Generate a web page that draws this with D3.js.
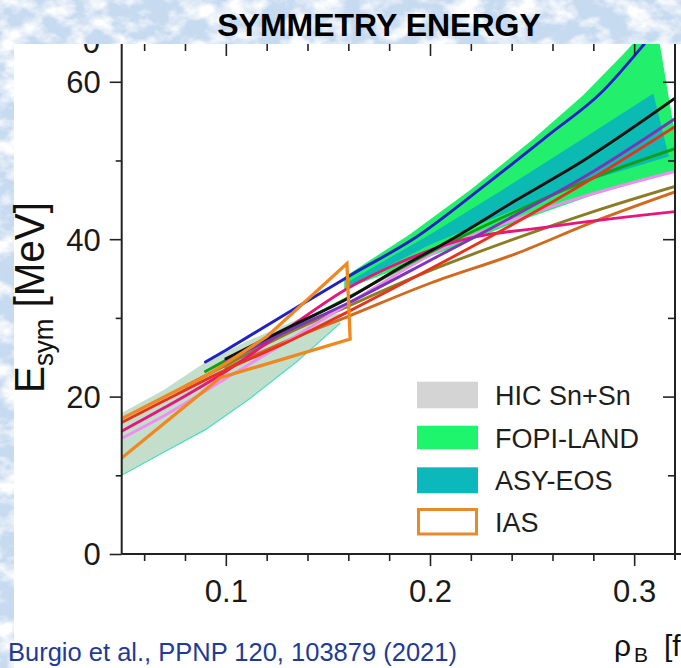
<!DOCTYPE html>
<html><head><meta charset="utf-8">
<script src="https://cdn.jsdelivr.net/npm/d3@7"></script>
<style>html,body{margin:0;padding:0;background:#fff;overflow:hidden}svg{display:block}</style>
</head><body>
<svg id="c" width="681" height="668"></svg>
<script>
// ---------------- DATA ----------------
const xMajorTicks = [0.1, 0.2, 0.3];
const xMinorTicks = [0.06, 0.08, 0.12, 0.14, 0.16, 0.18, 0.22, 0.24, 0.26, 0.28];
const yMajorTicks = [0, 20, 40, 60];
const yMinorTicks = [10, 30, 50];

// bands: [density, Esym]
const hicUpper  = [[0.049,17.9],[0.07,20.9],[0.089,24.2],[0.11,27.0],[0.135,29.8],[0.156,30.6]];
const hicLower  = [[0.049,10.0],[0.07,13.0],[0.09,15.8],[0.112,19.8],[0.135,24.5],[0.156,29.3]];
const fopiUpper = [[0.158,35.2],[0.19,40.6],[0.22,46.3],[0.25,52.6],[0.275,58.3],[0.295,63.6],[0.3105,68.0],[0.3196,53.9]];
const fopiLower = [[0.158,33.6],[0.18,35.8],[0.21,38.8],[0.2425,42.2],[0.28,45.6],[0.3196,48.6]];
const asyUpper  = [[0.16,34.6],[0.2,40.6],[0.235,46.2],[0.275,52.8],[0.3094,58.5],[0.317,50.5]];
const asyLower  = [[0.16,34.0],[0.2,39.3],[0.24,43.6],[0.28,47.6]];
const iasOutline = [[0.049,17.2],[0.092,22.9],[0.12,27.6],[0.1593,36.9],[0.1609,27.3],[0.0972,22.4],[0.049,12.2]];

// model curves
const curveBlue    = [[0.09,24.4],[0.1,25.9],[0.13,30.6],[0.1609,35.4],[0.1935,40.3],[0.2262,46.7],[0.2589,53.4],[0.2834,58.5],[0.3046,64.7],[0.31,66.4]];
const curveBlack   = [[0.1,24.8],[0.13,28.7],[0.16,32.5],[0.1854,36.4],[0.21,39.9],[0.2425,45.0],[0.2752,50.0],[0.32,57.9]];
const curvePurple  = [[0.1,24.5],[0.13,28.3],[0.16,31.9],[0.2,37.3],[0.24,42.8],[0.28,48.6],[0.32,55.3]];
const curveRed     = [[0.049,16.7],[0.07,19.5],[0.1,23.4],[0.13,26.9],[0.16,30.8],[0.2,36.2],[0.24,41.8],[0.28,47.8],[0.32,54.3]];
const curveGreen   = [[0.09,23.2],[0.1,24.6],[0.13,28.6],[0.16,32.6],[0.2,38.3],[0.24,43.3],[0.28,47.8],[0.32,51.5]];
const curveViolet  = [[0.049,14.7],[0.07,17.6],[0.1,22.3],[0.13,27.0],[0.16,31.8],[0.21,39.3],[0.2425,42.6],[0.275,45.4],[0.32,48.6]];
const curveOlive   = [[0.08,21.3],[0.1,24.0],[0.13,28.0],[0.16,31.5],[0.2,36.0],[0.24,39.9],[0.28,43.5],[0.32,46.7]];
const curveBrown   = [[0.1,23.6],[0.13,27.1],[0.16,30.2],[0.2,34.4],[0.2425,38.2],[0.28,42.2],[0.32,46.0]];
const curveCrimson = [[0.049,15.6],[0.07,18.6],[0.1,23.2],[0.13,28.6],[0.16,33.8],[0.185,37.0],[0.21,39.5],[0.2589,41.6],[0.32,43.5]];

const legendNames = ["HIC Sn+Sn", "FOPI-LAND", "ASY-EOS", "IAS"];

// ---------------- STYLE ----------------
const FONT = "'Liberation Sans', Arial, Helvetica, sans-serif";
const modelSeries = [
  [curveBrown,  "#d2691e"],
  [curveOlive,  "#8a7d24"],
  [curveViolet, "#f08ef0"],
  [curveGreen,  "#12a012"],
  [curveCrimson,"#e8157c"],
  [curveRed,    "#e8321c"],
  [curvePurple, "#7a35b8"],
  [curveBlack,  "#111111"],
  [curveBlue,   "#2020c8"]
];

const svg = d3.select("#c");
const W = 681, H = 668;
const x = d3.scaleLinear().domain([0.049, 0.32]).range([121.7, 675]);
const y = d3.scaleLinear().domain([0, 64.8]).range([554, 44]);

const defs = svg.append("defs");
defs.append("clipPath").attr("id","plot").append("rect")
  .attr("x", x.range()[0]).attr("y", y.range()[1])
  .attr("width", x.range()[1]-x.range()[0]).attr("height", y.range()[0]-y.range()[1]);
const filt = defs.append("filter").attr("id","tex").attr("filterUnits","userSpaceOnUse")
  .attr("x",0).attr("y",0).attr("width",W).attr("height",H);
filt.append("feTurbulence").attr("type","fractalNoise").attr("baseFrequency","0.035 0.05")
  .attr("numOctaves",4).attr("seed",7).attr("result","n");
filt.append("feColorMatrix").attr("in","n").attr("type","matrix")
  .attr("values","0 0 0 0 1  0 0 0 0 1  0 0 0 0 1  3.2 0 0 0 -1.35").attr("result","w");
filt.append("feComposite").attr("in","w").attr("in2","SourceGraphic").attr("operator","atop");

svg.append("rect").attr("width",W).attr("height",H).attr("fill","#ffffff");

const plot = svg.append("g").attr("clip-path","url(#plot)");
const lineLin = d3.line().x(d=>x(d[0])).y(d=>y(d[1]));
const lineSmooth = d3.line().x(d=>x(d[0])).y(d=>y(d[1])).curve(d3.curveMonotoneX);

// HIC band
plot.append("path").attr("d", lineLin(hicUpper.concat(hicLower.slice().reverse())) + "Z")
  .attr("fill","#bcdcc6").attr("fill-opacity",0.9);
plot.append("path").attr("d", lineLin(hicLower)).attr("fill","none")
  .attr("stroke","#45e0bc").attr("stroke-width",1.2);
// FOPI-LAND band
plot.append("path").attr("d", lineLin(fopiUpper.concat(fopiLower.slice().reverse())) + "Z")
  .attr("fill","#22f06c");
// ASY-EOS band
plot.append("path").attr("d", lineLin(asyUpper.concat(asyLower.slice().reverse())) + "Z")
  .attr("fill","#0cbab4");

// model curves
modelSeries.forEach(([pts, col]) => {
  plot.append("path").attr("d", lineSmooth(pts)).attr("fill","none")
    .attr("stroke", col).attr("stroke-width", 2.9).attr("stroke-linecap","round");
});

// IAS outline
plot.append("path").attr("d", lineLin(iasOutline)).attr("fill","none")
  .attr("stroke","#f0871f").attr("stroke-width",3.3).attr("stroke-linejoin","miter");

// ---------------- AXES ----------------
const axisCol = "#222";
function styleAxis(g){
  g.select(".domain").remove();
  g.selectAll(".tick line").attr("stroke",axisCol).attr("stroke-width",1.6);
  g.selectAll(".tick text").attr("fill","#1a1a1a").style("font-family",FONT).style("font-size","31px");
}
// bottom
const gb = svg.append("g").attr("transform",`translate(0,${y(0)})`)
  .call(d3.axisBottom(x).tickValues(xMajorTicks).tickSize(12).tickFormat(d3.format(".1f")));
styleAxis(gb);
gb.selectAll(".tick text").attr("y",48).attr("dy",0);
svg.append("g").attr("transform",`translate(0,${y(0)})`)
  .call(d3.axisBottom(x).tickValues(xMinorTicks).tickSize(7).tickFormat("")).call(styleAxis);
// top (ticks inward)
svg.append("g").attr("transform",`translate(0,${y.range()[1]})`)
  .call(d3.axisBottom(x).tickValues(xMajorTicks).tickSize(12).tickFormat("")).call(styleAxis);
svg.append("g").attr("transform",`translate(0,${y.range()[1]})`)
  .call(d3.axisBottom(x).tickValues(xMinorTicks).tickSize(7).tickFormat("")).call(styleAxis);
// left
const gl = svg.append("g").attr("transform",`translate(${x.range()[0]},0)`)
  .call(d3.axisLeft(y).tickValues(yMajorTicks).tickSize(12).tickFormat(d3.format("d")));
styleAxis(gl);
gl.selectAll(".tick text").attr("x",-21).attr("dy","0.35em");
svg.append("g").attr("transform",`translate(${x.range()[0]},0)`)
  .call(d3.axisLeft(y).tickValues(yMinorTicks).tickSize(6).tickFormat("")).call(styleAxis);
// right (ticks inward)
svg.append("g").attr("transform",`translate(${x.range()[1]},0)`)
  .call(d3.axisLeft(y).tickValues(yMajorTicks.slice(1)).tickSize(12).tickFormat("")).call(styleAxis);
svg.append("g").attr("transform",`translate(${x.range()[1]},0)`)
  .call(d3.axisLeft(y).tickValues(yMinorTicks).tickSize(7).tickFormat("")).call(styleAxis);
// axis lines
svg.append("line").attr("x1",x.range()[0]).attr("x2",W).attr("y1",y(0)).attr("y2",y(0))
  .attr("stroke",axisCol).attr("stroke-width",2);
svg.append("line").attr("x1",x.range()[0]).attr("x2",x.range()[0]).attr("y1",y.range()[1]).attr("y2",y(0))
  .attr("stroke",axisCol).attr("stroke-width",2);
svg.append("line").attr("x1",x.range()[1]).attr("x2",x.range()[1]).attr("y1",y.range()[1]).attr("y2",y(0)+6)
  .attr("stroke",axisCol).attr("stroke-width",2);

// partially hidden label above 60
svg.append("text").attr("x",100).attr("y",53).attr("text-anchor","end")
  .style("font-family",FONT).style("font-size","31px").attr("fill","#1a1a1a").text("0");

// ---------------- LEGEND ----------------
const legFill = ["#d4d4d4", "#1ef56c", "#0cb8bc", "none"];
const legBoxY = [381.7, 425.7, 467.3, 509.5];
const legBoxH = [26.6, 23.6, 26, 24.5];
const legTextY = [405, 447.5, 489.5, 531.7];
legendNames.forEach((nm,i)=>{
  const r = svg.append("rect").attr("x",417).attr("y",legBoxY[i]).attr("width",61).attr("height",legBoxH[i])
    .attr("fill",legFill[i]);
  if (legFill[i]==="none") r.attr("x",418.5).attr("width",58).attr("fill","#fff").attr("stroke","#e8892a").attr("stroke-width",3);
  svg.append("text").attr("x",495).attr("y",legTextY[i]).style("font-family",FONT).style("font-size","27px")
    .attr("fill","#1e1e1e").text(nm);
});

// ---------------- TEXTURED FRAME ----------------
svg.append("path").attr("d",`M0,0H${W}V44H14V${H}H0Z`).attr("fill","#c6daf0").attr("filter","url(#tex)");

// title
svg.append("text").attr("x",379).attr("y",36).attr("text-anchor","middle")
  .style("font-family",FONT).style("font-size","32px").style("font-weight","bold").attr("fill","#000")
  .text("SYMMETRY ENERGY");

// y label
const yl = svg.append("text").attr("transform","translate(44,393) rotate(-90) scale(0.96,1)")
  .style("font-family",FONT).style("font-size","42px").attr("fill","#111");
yl.append("tspan").text("E");
yl.append("tspan").attr("dy",9).style("font-size","27px").text("sym");
yl.append("tspan").attr("dy",-9).text(" [MeV]");

// x label (only the part visible in the reference crop)
const xl = svg.append("text").attr("x",614).attr("y",656)
  .style("font-family",FONT).style("font-size","30px").attr("fill","#111");
xl.append("tspan").text("ρ");
xl.append("tspan").attr("x",634).attr("dy",6).style("font-size","21px").text("B");
xl.append("tspan").attr("x",664).attr("dy",-6).text("[f");

// citation
svg.append("text").attr("x",8).attr("y",661).style("font-family",FONT).style("font-size","25.5px")
  .attr("fill","#1f3b96").text("Burgio et al., PPNP 120, 103879 (2021)");
</script>
</body></html>
